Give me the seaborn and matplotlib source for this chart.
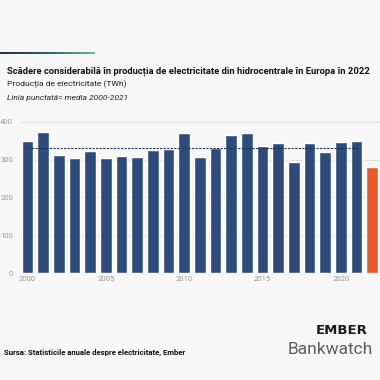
import numpy as np
import pandas as pd
import matplotlib
matplotlib.use("Agg")
import matplotlib.pyplot as plt
from matplotlib.colors import LinearSegmentedColormap
import seaborn as sns

# Datos (TWh)
anios = list(range(2000, 2023))
produccion = [349, 373, 312, 303, 322, 305, 308, 307, 324, 328, 371, 306,
              330, 366, 369, 336, 344, 293, 343, 319, 346, 348, 281]
media_2000_2021 = 330
ticks_anios = [2000, 2005, 2010, 2015, 2020]
ticks_y = [0, 100, 200, 300, 400]

azul = "#2f4b7c"
naranja = "#e6592b"
fondo = "#f7f7f7"

df = pd.DataFrame({"anio": anios, "twh": produccion})
df["grupo"] = np.where(df["anio"] == 2022, "2022", "resto")

sns.set_theme(style="white")
plt.rcParams["font.family"] = ["Roboto", "DejaVu Sans"]

fig = plt.figure(figsize=(3.8, 3.8), dpi=100, facecolor=fondo)

# Línea degradada arriba a la izquierda
ax_linea = fig.add_axes([0, 1 - 54.5 / 380, 95 / 380, 2.2 / 380])
degradado = LinearSegmentedColormap.from_list("grad", ["#1f2f4c", "#2f5f70", "#5cc08a"])
ax_linea.imshow(np.linspace(0, 1, 200).reshape(1, -1), cmap=degradado, aspect="auto")
ax_linea.axis("off")

# Gráfico de barras
ax = fig.add_axes([20 / 380, 1 - 273 / 380, 360 / 380, (273 - 121.7) / 380])
ax.set_facecolor(fondo)
sns.barplot(data=df, x="anio", y="twh", hue="grupo",
            palette={"resto": azul, "2022": naranja},
            width=0.75, saturation=1, legend=False, ax=ax)

# Línea punteada de la media
ax.plot([0, 21], [media_2000_2021, media_2000_2021], color="#1f2f4c",
        linestyle=(0, (2, 1.2)), linewidth=0.8, zorder=3)

ax.set_xlim(-0.48, 22.5)
ax.set_ylim(0, 400)
ax.set_yticks(ticks_y)
ax.set_yticklabels([str(t) for t in ticks_y])
ax.set_xticks([anios.index(a) for a in ticks_anios])
ax.set_xticklabels([str(a) for a in ticks_anios])
ax.tick_params(axis="both", length=0, labelsize=5.5, colors="#9a9a9a")
ax.tick_params(axis="y", pad=5)
ax.tick_params(axis="x", pad=2)
ax.set_xlabel("")
ax.set_ylabel("")
ax.grid(axis="y", color="#dedede", linewidth=0.6)
ax.set_axisbelow(True)
sns.despine(ax=ax, left=True, bottom=True)

# Textos
fig.text(7 / 380, 1 - 71 / 380, "Scădere considerabilă în producția de electricitate din hidrocentrale în Europa în 2022",
         fontsize=6.75, fontweight="bold", color="#111111", va="center")
fig.text(7 / 380, 1 - 84 / 380, "Producția de electricitate (TWh)",
         fontsize=6.1, color="#222222", va="center")
fig.text(7 / 380, 1 - 98 / 380, "Linia punctată= media 2000-2021",
         fontsize=6.0, style="italic", color="#222222", va="center")
fig.text(4 / 380, 1 - 352 / 380, "Sursa: Statisticile anuale despre electricitate, Ember",
         fontsize=5.55, fontweight="bold", color="#111111", va="center")

# Logos como texto
fig.text(368 / 380, 1 - 331 / 380, "EMBER", fontsize=9.5, fontweight="bold",
         color="#1a1a1a", ha="right", va="center", family="DejaVu Sans")
fig.text(373 / 380, 1 - 350 / 380, "Bankwatch", fontsize=12.5,
         color="#5e5e5e", ha="right", va="center")

fig.savefig("out.png", dpi=100, facecolor=fondo)
